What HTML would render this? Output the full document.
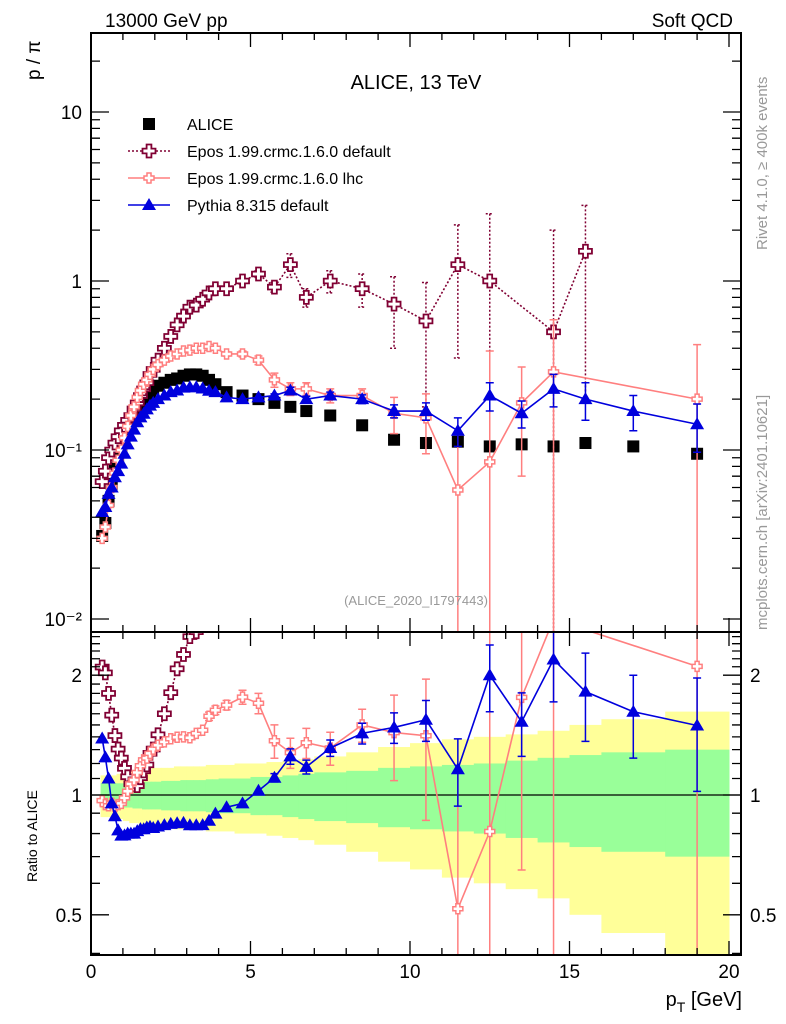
<!DOCTYPE html>
<html><head><meta charset="utf-8"><style>
html,body{margin:0;background:#fff;overflow:hidden}
svg{display:block}
text{font-family:"Liberation Sans",sans-serif}
</style></head><body>
<svg id="c" width="786" height="1024" xmlns="http://www.w3.org/2000/svg">
<defs>
<clipPath id="cm"><rect x="91" y="33" width="650" height="599"/></clipPath>
<clipPath id="cr"><rect x="91" y="632" width="650" height="323"/></clipPath>
</defs>
<g id="bands" clip-path="url(#cr)"></g>
<g id="series"></g>
<rect x="91" y="33" width="650" height="599" fill="none" stroke="#000" stroke-width="2"/>
<rect x="91" y="632" width="650" height="323" fill="none" stroke="#000" stroke-width="2"/>
<g id="ticks"></g>
<text x="105" y="27" font-size="19">13000 GeV pp</text>
<text x="733" y="27" font-size="19" text-anchor="end">Soft QCD</text>
<text x="416" y="89" font-size="20" text-anchor="middle">ALICE, 13 TeV</text>
<text x="416" y="605" font-size="13" fill="#999" text-anchor="middle">(ALICE_2020_I1797443)</text>
<text transform="translate(767,250) rotate(-90)" font-size="15" fill="#999">Rivet 4.1.0, ≥ 400k events</text>
<text transform="translate(767,630) rotate(-90)" font-size="15" fill="#999">mcplots.cern.ch [arXiv:2401.10621]</text>
<text transform="translate(40,80) rotate(-90)" font-size="19">p / π</text>
<text transform="translate(37,882) rotate(-90)" font-size="14">Ratio to ALICE</text>
<text x="742" y="1006" font-size="20" text-anchor="end">p<tspan font-size="14" dy="6">T</tspan><tspan dy="-6"> [GeV]</tspan></text>
<g id="legend"></g>
</svg>
<script>
const pT=[0.35,0.45,0.55,0.65,0.75,0.85,0.95,1.05,1.15,1.25,1.35,1.45,1.55,1.65,1.75,1.85,1.95,2.1,2.3,2.5,2.7,2.9,3.1,3.3,3.5,3.7,3.9,4.25,4.75,5.25,5.75,6.25,6.75,7.5,8.5,9.5,10.5,11.5,12.5,13.5,14.5,15.5,17,19];
const edges=[0.3,0.4,0.5,0.6,0.7,0.8,0.9,1.0,1.1,1.2,1.3,1.4,1.5,1.6,1.7,1.8,1.9,2.0,2.2,2.4,2.6,2.8,3.0,3.2,3.4,3.6,3.8,4.0,4.5,5,5.5,6,6.5,7,8,9,10,11,12,13,14,15,16,18,20];
const alice=[0.031,0.037,0.05,0.063,0.078,0.092,0.105,0.12,0.135,0.15,0.165,0.18,0.19,0.2,0.21,0.22,0.23,0.24,0.25,0.26,0.265,0.275,0.28,0.28,0.275,0.26,0.245,0.22,0.21,0.2,0.19,0.18,0.17,0.16,0.14,0.115,0.11,0.112,0.105,0.108,0.105,0.11,0.105,0.095];
const eposDef=[0.065,0.075,0.09,0.1,0.11,0.12,0.13,0.14,0.15,0.16,0.175,0.19,0.21,0.23,0.25,0.28,0.3,0.34,0.4,0.47,0.55,0.62,0.7,0.72,0.78,0.85,0.9,0.9,1.0,1.1,0.92,1.25,0.8,1.0,0.9,0.73,0.58,1.25,1.0,null,0.5,1.5,null,null];
const eposDefErr=[0,0,0,0,0,0,0,0,0,0,0,0,0,0,0,0,0,0,0,0,0,0,0,0,0,0,0,0,0.04,0.05,0.06,0.2,0.1,0.15,0.2,0.33,0.4,0.9,1.5,0,1.5,1.3,0,0];
const eposLhc=[0.03,0.035,0.047,0.06,0.073,0.087,0.1,0.118,0.138,0.16,0.18,0.205,0.225,0.245,0.26,0.28,0.3,0.32,0.34,0.36,0.37,0.385,0.39,0.4,0.4,0.41,0.4,0.37,0.37,0.34,0.26,0.23,0.23,0.21,0.21,0.165,0.155,0.058,0.085,0.19,0.29,null,null,0.2];
const eposLhcErr=[0,0,0,0,0,0,0,0,0,0,0,0,0,0,0,0,0,0,0,0,0,0,0,0,0,0.01,0.01,0.01,0.015,0.02,0.025,0.02,0.02,0.02,0.02,0.04,0.06,0.07,0.3,0.12,0.3,0,0,0.22];
const pythia=[0.043,0.046,0.055,0.06,0.069,0.075,0.083,0.095,0.108,0.12,0.132,0.146,0.156,0.164,0.174,0.183,0.19,0.2,0.21,0.22,0.225,0.234,0.235,0.235,0.231,0.224,0.22,0.205,0.2,0.205,0.21,0.225,0.2,0.21,0.2,0.17,0.17,0.13,0.21,0.165,0.23,0.2,0.17,0.142];
const pythiaErr=[0,0,0,0,0,0,0,0,0,0,0,0,0,0,0,0,0,0,0,0,0,0,0,0,0,0,0,0,0,0,0.005,0.01,0.008,0.01,0.012,0.015,0.02,0.025,0.04,0.03,0.05,0.05,0.04,0.045];
const bandGreen=[0.07,0.07,0.07,0.07,0.07,0.07,0.07,0.07,0.07,0.07,0.075,0.075,0.075,0.08,0.08,0.08,0.08,0.08,0.085,0.085,0.085,0.09,0.09,0.09,0.09,0.095,0.095,0.1,0.1,0.11,0.11,0.12,0.13,0.14,0.15,0.17,0.18,0.19,0.2,0.22,0.24,0.26,0.28,0.3];
const bandYellow=[0.12,0.12,0.12,0.12,0.12,0.13,0.13,0.14,0.14,0.15,0.15,0.15,0.16,0.16,0.16,0.16,0.17,0.17,0.17,0.17,0.18,0.18,0.18,0.18,0.18,0.19,0.19,0.19,0.2,0.2,0.21,0.22,0.23,0.25,0.28,0.32,0.35,0.38,0.4,0.42,0.45,0.5,0.55,0.62];
const xTicksMajor=[0,5,10,15,20];
const yTickLabels=["10","1","10⁻¹","10⁻²"];
const yTickVals=[10,1,0.1,0.01];
const rTickVals=[0.5,1,2];
const rTickLabels=["0.5","1","2"];

const NS="http://www.w3.org/2000/svg";
const X=v=>91+v*31.9;
const Y=v=>450-(Math.log10(v)+1)*169;
const R=v=>795-Math.log10(v)*398;
function el(t,a,p){const e=document.createElementNS(NS,t);for(const k in a)e.setAttribute(k,a[k]);(p||document.getElementById('c')).appendChild(e);return e;}
const bg=document.getElementById('bands');
for(let i=0;i<pT.length;i++){
  const x0=X(edges[i]),x1=X(edges[i+1]);
  const y=el('rect',{x:x0,y:R(1+bandYellow[i]),width:x1-x0+0.5,height:R(Math.max(0.01,1-bandYellow[i]))-R(1+bandYellow[i]),fill:'#ffff99'},bg);
  
  
}
for(let i=0;i<pT.length;i++){
  const x0=X(edges[i]),x1=X(edges[i+1]);
  const g=el('rect',{x:x0,y:R(1+bandGreen[i]),width:x1-x0+0.5,height:R(1-bandGreen[i])-R(1+bandGreen[i]),fill:'#99ff99'},bg);
  
  
}
const one=el('line',{x1:91,x2:741,y1:R(1),y2:R(1),stroke:'#000','stroke-width':1.3},bg);



function marker(g,type,x,y,col){
  let m;
  if(type==='sq'){m=el('rect',{x:x-6,y:y-6,width:12,height:12,fill:'#000'},g);}
  else if(type==='tri'){m=el('path',{d:`M${x} ${y-7}L${x+7} ${y+5}L${x-7} ${y+5}Z`,fill:col},g);}
  else {const s=type==='cross'?6.5:5,w=type==='cross'?2.4:2;
    m=el('path',{d:`M${x-w} ${y-s}H${x+w}V${y-w}H${x+s}V${y+w}H${x+w}V${y+s}H${x-w}V${y+w}H${x-s}V${y-w}H${x-w}Z`,fill:'#fff',stroke:col,'stroke-width':type==='cross'?1.8:1.5},g);}
  
  
}
function series(name,vals,errs,col,type,dash,ratio){
  const g=el('g',{'clip-path':ratio?'url(#cr)':'url(#cm)'},document.getElementById('series'));
  
  
  const F=ratio?R:Y;
  const pts=[];
  for(let i=0;i<pT.length;i++){
    let v=vals[i];if(v==null)continue;
    let e=errs?errs[i]:0;
    if(ratio){v=v/alice[i];e=e/alice[i];}
    pts.push([X(pT[i]),F(v),v,e]);
  }
  if(type!=='sq'){
    const l=el('polyline',{points:pts.map(p=>p[0]+','+p[1]).join(' '),fill:'none',stroke:col,'stroke-width':1.6,'stroke-dasharray':dash||''},g);
    
    
  }
  pts.forEach(p=>{
    if(p[3]>0 && !(ratio && type==='cross')){const lo=p[2]-p[3]>0?F(p[2]-p[3]):1000;
      const b=el('path',{d:`M${p[0]} ${F(p[2]+p[3])}V${lo}M${p[0]-4} ${F(p[2]+p[3])}h8M${p[0]-4} ${lo}h8`,stroke:col,'stroke-width':1.5,'stroke-dasharray':dash||'',fill:'none'},g);
      
      }
  });
  pts.forEach(p=>marker(g,type,p[0],p[1],col));
}
series('alice',alice,null,'#000','sq',null,false);
series('epos-default',eposDef,eposDefErr,'#800033','cross','2,2',false);
series('epos-lhc',eposLhc,eposLhcErr,'#ff7f7f','smallcross',null,false);
series('pythia',pythia,pythiaErr,'#0000dd','tri',null,false);
series('epos-default',eposDef,eposDefErr,'#800033','cross','2,2',true);
series('epos-lhc',eposLhc,eposLhcErr,'#ff7f7f','smallcross',null,true);
series('pythia',pythia,pythiaErr,'#0000dd','tri',null,true);

const tg=document.getElementById('ticks');


let d='';
for(let v=0;v<=20;v++){const x=X(v),L=v%5===0?14:7;
  d+=`M${x} 955v-${L}M${x} 632v${L}M${x} 632v-${L}M${x} 33v${L}`;}
for(let e=-2;e<=1;e++)for(let k=1;k<10;k++){const v=k*Math.pow(10,e);if(v>29)continue;const y=Y(v),L=k===1?18:9;
  d+=`M91 ${y}h${L}M741 ${y}h-${L}`;}
for(let k=4;k<=25;k++){const v=k/10;const y=R(v),L=(v===0.5||v===1||v===2)?18:9;
  d+=`M91 ${y}h${L}M741 ${y}h-${L}`;}
el('path',{d:d,stroke:'#000','stroke-width':1.3,fill:'none'},tg);
xTicksMajor.forEach(v=>{const t=el('text',{x:X(v),y:978,'font-size':19,'text-anchor':'middle'},tg);t.textContent=v;
  
  });
yTickVals.forEach((v,i)=>{const t=el('text',{x:82,y:Y(v)+7,'font-size':19,'text-anchor':'end'},tg);t.textContent=yTickLabels[i];
  
  });
rTickVals.forEach((v,i)=>{const t=el('text',{x:82,y:R(v)+7,'font-size':19,'text-anchor':'end'},tg);t.textContent=rTickLabels[i];
  
  
  const t2=el('text',{x:750,y:R(v)+7,'font-size':19},tg);t2.textContent=rTickLabels[i];
  
  });

const lg=document.getElementById('legend');
const entries=[['ALICE','sq','#000',null],['Epos 1.99.crmc.1.6.0 default','cross','#800033','2,2'],['Epos 1.99.crmc.1.6.0 lhc','smallcross','#ff7f7f',null],['Pythia 8.315 default','tri','#0000dd',null]];
entries.forEach((e,i)=>{const y=124+i*27;
  const g=el('g',{},lg);
  
  
  if(e[1]!=='sq')el('line',{x1:128,x2:170,y1:y,y2:y,stroke:e[2],'stroke-width':1.6,'stroke-dasharray':e[3]||''},g);
  marker(g,e[1],149,y,e[2]);
  const t=el('text',{x:187,y:y+6,'font-size':16},g);t.textContent=e[0];});
</script>
</body></html>
